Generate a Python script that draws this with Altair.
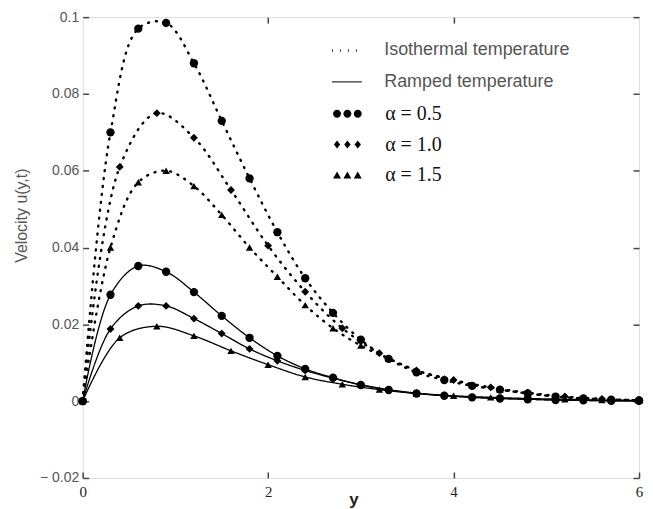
import altair as alt
import pandas as pd

# positions along y (horizontal axis) at which values were read
pos_step03 = [0.0, 0.3, 0.6, 0.9, 1.2, 1.5, 1.8, 2.1, 2.4, 2.7, 3.0, 3.3, 3.6, 3.9, 4.2, 4.5, 4.8, 5.1, 5.4, 5.7, 6.0]
pos_step04 = [0.0, 0.4, 0.8, 1.2, 1.6, 2.0, 2.4, 2.8, 3.2, 3.6, 4.0, 4.4, 4.8, 5.2, 5.6, 6.0]

# Isothermal temperature
iso_a05 = [0.0, 0.070, 0.097, 0.0985, 0.088, 0.073, 0.058, 0.044, 0.032, 0.023, 0.016, 0.011, 0.0075,
           0.0055, 0.004, 0.003, 0.002, 0.0012, 0.0007, 0.0004, 0.0002]
iso_a10 = [0.0, 0.061, 0.075, 0.0686, 0.055, 0.0405, 0.0285, 0.019, 0.0125, 0.008, 0.0055, 0.0036,
           0.0022, 0.0012, 0.0006, 0.0002]
iso_a15 = [0.0, 0.040, 0.057, 0.060, 0.056, 0.0485, 0.040, 0.0324, 0.025, 0.019, 0.0145, 0.011, 0.008,
           0.006, 0.0042, 0.003, 0.002, 0.0012, 0.0007, 0.0004, 0.0002]

# Ramped temperature
ramp_a05 = [0.0, 0.0277, 0.0352, 0.0337, 0.0284, 0.0222, 0.0165, 0.0118, 0.0084, 0.0061, 0.0042, 0.0029,
            0.0020, 0.0014, 0.0010, 0.0007, 0.0005, 0.0003, 0.0002, 0.0001, 0.0001]
ramp_a10 = [0.0, 0.0188, 0.0248, 0.0248, 0.0215, 0.0176, 0.0136, 0.0105, 0.0080, 0.0060, 0.0043, 0.0030,
            0.0021, 0.0015, 0.0010, 0.0007, 0.0005, 0.0003, 0.0002, 0.0001, 0.0001]
ramp_a15 = [0.0, 0.0165, 0.0195, 0.0170, 0.0131, 0.0095, 0.0063, 0.0044, 0.0030, 0.0020, 0.0014, 0.0010,
            0.0007, 0.0005, 0.0003, 0.0002]

types = ["Isothermal temperature", "Ramped temperature"]
alphas = ["0.5", "1.0", "1.5"]
x_ticks = [0, 2, 4, 6]
y_ticks = [-0.02, 0, 0.02, 0.04, 0.06, 0.08, 0.1]

series = [
    (types[0], alphas[0], pos_step03, iso_a05),
    (types[0], alphas[1], pos_step04, iso_a10),
    (types[0], alphas[2], pos_step03, iso_a15),
    (types[1], alphas[0], pos_step03, ramp_a05),
    (types[1], alphas[1], pos_step03, ramp_a10),
    (types[1], alphas[2], pos_step04, ramp_a15),
]
rows = []
for kind, a, xs, vs in series:
    for x, v in zip(xs, vs):
        rows.append({"pos": x, "u": v, "type": kind, "alpha": a, "series": kind + a})
df = pd.DataFrame(rows)

xscale = alt.Scale(domain=[0, 6], nice=False, zero=False)
yscale = alt.Scale(domain=[-0.02, 0.1], nice=False, zero=False)

tick_style = dict(tickColor="#444", tickWidth=1.5, tickSize=6, offset=-6, domain=False, grid=False)

x_bottom = alt.Axis(orient="bottom", values=x_ticks, labelFont="Liberation Serif", labelFontSize=15,
                    labelColor="#222", labelPadding=7, labelFlush=False, title="y",
                    titleFont="Liberation Sans", titleFontSize=17, titleColor="#222",
                    titleFontWeight="bold", titleX=272, titleY=33, titleBaseline="alphabetic",
                    titleAlign="center", **tick_style)
y_left = alt.Axis(orient="left", values=y_ticks,
                  labelExpr="datum.value < 0 ? '\u2212 ' + format(-datum.value, '~g') : format(datum.value, '~g')",
                  labelFont="Liberation Sans", labelFontSize=14, labelColor="#555", labelPadding=4,
                  labelFlush=False, title="Velocity u(y,t)", titleFont="Liberation Sans", titleFontSize=16,
                  titleColor="#555", titleFontWeight="normal", titleX=-67, titleY=199, titleAngle=270,
                  titleBaseline="middle", titleAlign="center", **tick_style)
x_top = alt.Axis(orient="top", values=[2, 4], labels=False, title=None, **tick_style)
y_right = alt.Axis(orient="right", values=y_ticks, labels=False, title=None, **tick_style)

lines = alt.Chart(df).mark_line(interpolate="catmull-rom", color="black", strokeCap="round").encode(
    x=alt.X("pos:Q", scale=xscale, axis=x_bottom),
    y=alt.Y("u:Q", scale=yscale, axis=y_left),
    strokeDash=alt.StrokeDash(
        "type:N",
        scale=alt.Scale(domain=types, range=[[1, 7], [1, 0]]),
        legend=alt.Legend(orient="none", legendX=249, legendY=17, title=None, padding=0,
                          symbolType="stroke", symbolSize=900, symbolStrokeWidth=2,
                          symbolStrokeColor="#333", labelFont="Liberation Sans", labelFontSize=18,
                          labelColor="#555", labelOffset=21, rowPadding=6, labelLimit=400),
    ),
    strokeWidth=alt.StrokeWidth("type:N", scale=alt.Scale(domain=types, range=[2.4, 1.3]), legend=None),
    detail="series:N",
)

points = alt.Chart(df).mark_point(filled=True, color="black", opacity=1).encode(
    x=alt.X("pos:Q", scale=xscale, axis=x_top),
    y=alt.Y("u:Q", scale=yscale, axis=y_right),
    shape=alt.Shape("alpha:O", scale=alt.Scale(domain=alphas, range=["circle", "diamond", "triangle-up"]),
                    legend=None),
    size=alt.Size("alpha:O", scale=alt.Scale(domain=alphas, range=[70, 55, 55]), legend=None),
)

def triple(shape_fn):
    return " ".join(shape_fn(c) for c in (-2.6, 0.0, 2.6))

circle3 = triple(lambda c: f"M {c+1},0 A 1,1 0 1,1 {c-1},0 A 1,1 0 1,1 {c+1},0 Z")
diamond3 = triple(lambda c: f"M {c},-1 L {c+0.8},0 L {c},1 L {c-0.8},0 Z")
triangle3 = triple(lambda c: f"M {c},-0.95 L {c+1},0.8 L {c-1},0.8 Z")

legend_layer = alt.Chart(df).transform_filter("datum.u > 1").mark_point(
    filled=True, color="black", opacity=1
).encode(
    x=alt.X("pos:Q", scale=xscale, axis=None),
    y=alt.Y("u:Q", scale=yscale, axis=None),
    shape=alt.Shape("alpha:O", scale=alt.Scale(domain=alphas, range=[circle3, diamond3, triangle3]),
                    legend=alt.Legend(orient="none", legendX=256, legendY=87, title=None, padding=0,
                                      symbolSize=64, symbolFillColor="black", symbolStrokeWidth=0,
                                      symbolOpacity=1, labelExpr="'\u03b1 = ' + datum.label",
                                      labelFont="Liberation Serif", labelFontSize=20, labelColor="#111",
                                      labelOffset=28, rowPadding=11, labelLimit=300)),
)

chart = alt.layer(lines, points, legend_layer).resolve_scale(
    shape="independent", size="independent"
).resolve_axis(x="independent", y="independent").properties(
    width=559, height=463,
    autosize=alt.AutoSizeParams(type="none"),
    padding={"left": 75, "top": 8, "right": 6, "bottom": 30},
).configure_view(stroke="#444", strokeWidth=2).configure(background="white")

chart.save("out.html", embed_options={"renderer": "svg", "actions": False})
